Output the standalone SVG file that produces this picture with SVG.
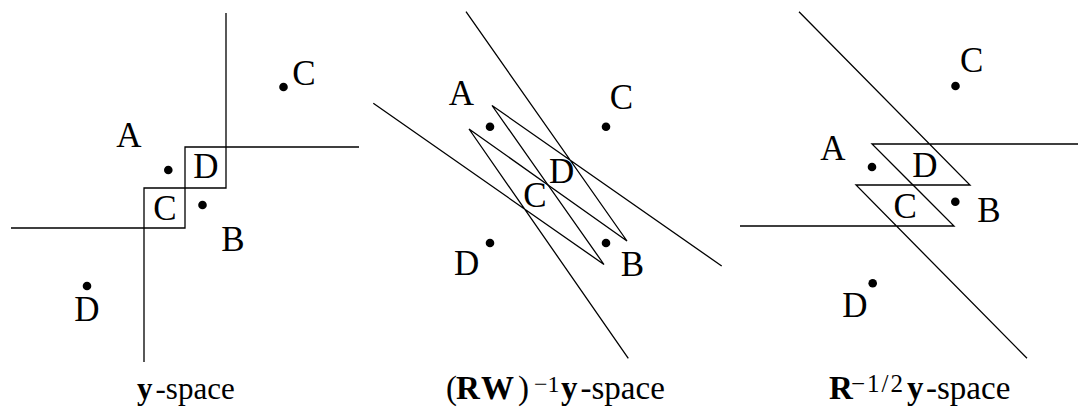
<svg xmlns="http://www.w3.org/2000/svg" width="1078" height="410" viewBox="0 0 1078 410">
<style>
.ln{fill:none;stroke:#000;stroke-width:1.3;stroke-linejoin:miter}
.lb{font-family:'Liberation Serif','Times New Roman',Times,serif;font-size:35px;fill:#000;text-anchor:middle}
.cap{font-family:'Liberation Serif','Times New Roman',Times,serif;fill:#000}
.b{font-weight:bold}
.dot{fill:#000}
</style>
<rect width="1078" height="410" fill="#fff"/>
<g id="connectors">
  <path class="ln" d="M226,13 V188 H144 V362"/>
  <path class="ln" d="M359,147 H185 V228 H11"/>
  <path class="ln" d="M466,11.7 L627,241 L548,185 L492,105.5 L721.7,266"/>
  <path class="ln" d="M373.3,103.3 L604,264.5 L548,185 L469,129 L628.3,358.3"/>
  <path class="ln" d="M799,11.7 L970,185 L913,185 L872,144 L1078,144"/>
  <path class="ln" d="M740,226 L954,226 L913,185 L856,185 L1027,358.3"/>
</g>
<g id="panel1">
  <g id="p1-A"><circle class="dot" cx="168.3" cy="170" r="4.3"/><text class="lb" x="129" y="146.5">A</text></g>
  <g id="p1-B"><circle class="dot" cx="202.5" cy="205" r="4.3"/><text class="lb" x="233" y="251">B</text></g>
  <g id="p1-C"><circle class="dot" cx="283.5" cy="87" r="4.3"/><text class="lb" x="304" y="85">C</text></g>
  <g id="p1-D"><circle class="dot" cx="87" cy="286" r="4.3"/><text class="lb" x="87" y="320.5">D</text></g>
  <g id="p1-cellD"><text class="lb" x="206" y="178">D</text></g>
  <g id="p1-cellC"><text class="lb" x="165" y="220">C</text></g>
  <g id="p1-caption"><text class="cap" y="399" font-size="31"><tspan class="b" x="137">y</tspan><tspan x="155.5">-space</tspan></text></g>
</g>
<g id="panel2">
  <g id="p2-A"><circle class="dot" cx="490" cy="126.7" r="4.3"/><text class="lb" x="461.5" y="105">A</text></g>
  <g id="p2-C"><circle class="dot" cx="606" cy="126.7" r="4.3"/><text class="lb" x="621.5" y="109">C</text></g>
  <g id="p2-D"><circle class="dot" cx="490" cy="243" r="4.3"/><text class="lb" x="466.7" y="275">D</text></g>
  <g id="p2-B"><circle class="dot" cx="606" cy="243" r="4.3"/><text class="lb" x="632.5" y="276">B</text></g>
  <g id="p2-cellD"><text class="lb" x="561.7" y="183.3">D</text></g>
  <g id="p2-cellC"><text class="lb" x="535" y="207">C</text></g>
  <g id="p2-caption"><text class="cap" y="399" font-size="33"><tspan x="446">(</tspan><tspan class="b" x="456">R</tspan><tspan class="b" x="481">W</tspan><tspan x="518">)</tspan><tspan x="534" y="392" font-size="24">−1</tspan><tspan class="b" x="561" y="399">y</tspan><tspan x="580.5">-space</tspan></text></g>
</g>
<g id="panel3">
  <g id="p3-C"><circle class="dot" cx="955.5" cy="86" r="4.3"/><text class="lb" x="971.7" y="71.7">C</text></g>
  <g id="p3-A"><circle class="dot" cx="872" cy="167" r="4.3"/><text class="lb" x="833" y="160">A</text></g>
  <g id="p3-B"><circle class="dot" cx="955.3" cy="201.7" r="4.3"/><text class="lb" x="989" y="221.5">B</text></g>
  <g id="p3-D"><circle class="dot" cx="872.7" cy="283.3" r="4.3"/><text class="lb" x="855" y="316.7">D</text></g>
  <g id="p3-cellD"><text class="lb" x="925" y="176.7">D</text></g>
  <g id="p3-cellC"><text class="lb" x="905.3" y="218">C</text></g>
  <g id="p3-caption"><text class="cap" y="399" font-size="33"><tspan class="b" x="829">R</tspan><tspan x="851" y="392" font-size="25" letter-spacing="2">−1/2</tspan><tspan class="b" x="907" y="399">y</tspan><tspan x="926">-space</tspan></text></g>
</g>
</svg>
